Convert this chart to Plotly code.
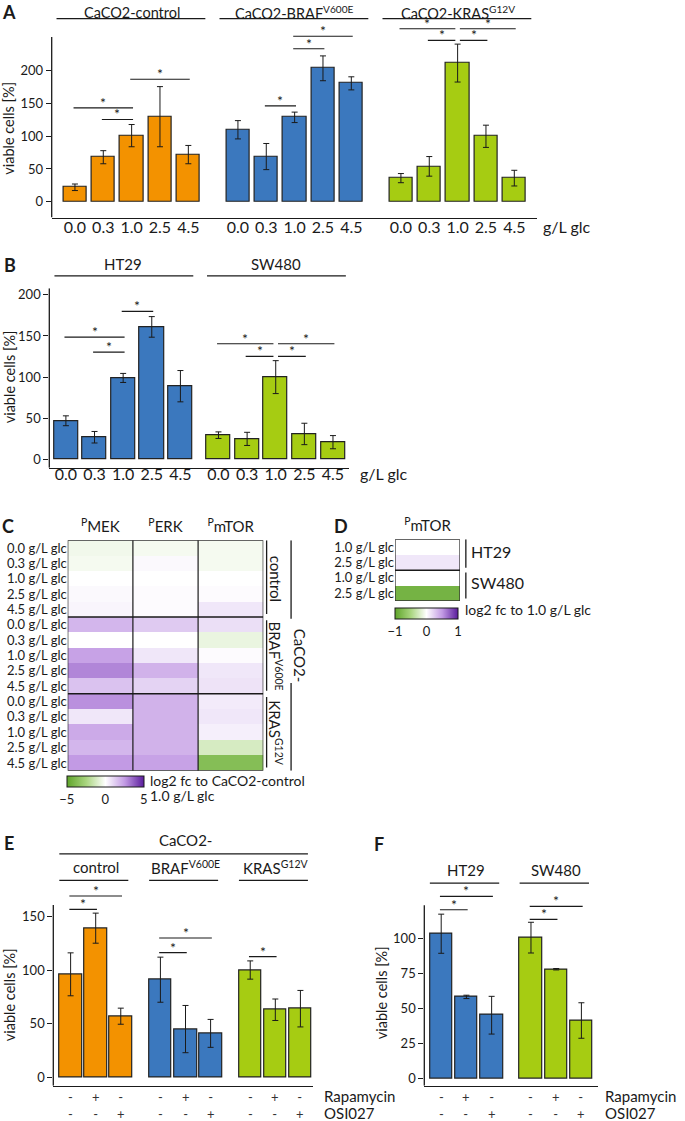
import plotly.graph_objects as go

W, H = 685, 1121
FONT = "Lato"
INK = "#1a1a1a"
ORANGE, BLUE, GREEN = "#f39200", "#3b78be", "#a6cc12"


def fx(p):
    return p / W


def fy(p):
    return 1 - p / H


# ---------------- data ----------------
glc_levels = ["0.0", "0.3", "1.0", "2.5", "4.5"]

# Panel A
a_titles = ["CaCO2-control", "CaCO2-BRAF<sup>V600E</sup>", "CaCO2-KRAS<sup>G12V</sup>"]
a_control = [22, 68, 101, 130, 72]
a_control_err = [5, 10, 17, 46, 14]
a_braf = [110, 69, 129, 204, 181]
a_braf_err = [14, 20, 8, 19, 10]
a_kras = [36, 54, 212, 100, 36]
a_kras_err = [7, 15, 29, 17, 12]
a_sig = [(0, 0, 2, 143.5), (0, 1, 2, 125.7), (0, 2, 4, 187.3),
         (1, 1, 2, 146.6), (1, 2, 3, 234), (1, 2, 4, 253),
         (2, 0, 2, 264.6), (2, 2, 4, 264.6), (2, 1, 2, 246.8), (2, 2, 3, 246.8)]

# Panel B
b_titles = ["HT29", "SW480"]
b_ht29 = [47, 27, 99, 161, 89]
b_ht29_err = [6, 7, 5.5, 12.5, 19]
b_sw480 = [29.5, 25, 100, 31, 21]
b_sw480_err = [4, 8, 20, 13, 8]
b_sig = [(0, 0, 2, 148.6), (0, 1, 2, 130.4), (0, 2, 3, 179.8),
         (1, 0, 2, 140.6), (1, 2, 4, 140.6), (1, 1, 2, 125.2), (1, 2, 3, 125.2)]

# Panel C (log2 fc to CaCO2-control 1.0 g/L glc)
c_rows = [f"{g} g/L glc" for g in glc_levels] * 3
c_cols = ["<sup>P</sup>MEK", "<sup>P</sup>ERK", "<sup>P</sup>mTOR"]
c_groups = ["control", "BRAF<sup>V600E</sup>", "KRAS<sup>G12V</sup>"]
c_mek = [-0.4, -0.3, 0.0, 0.15, 0.25, 1.8, 0.0, 2.3, 2.9, 1.5, 2.7, 0.6, 2.1, 1.8, 2.5]
c_erk = [-0.3, 0.15, 0.0, 0.1, 0.1, 1.3, 0.0, 0.6, 1.9, 1.1, 1.9, 1.9, 1.9, 1.9, 2.3]
c_mtor = [-0.3, -0.3, 0.0, 0.1, 0.6, 0.8, -0.6, 0.1, 0.6, 0.7, 0.5, 0.6, 0.4, -1.2, -3.7]

# Panel D (log2 fc to 1.0 g/L glc)
d_rows = ["1.0 g/L glc", "2.5 g/L glc", "1.0 g/L glc", "2.5 g/L glc"]
d_groups = ["HT29", "SW480"]
d_mtor = [0.0, 0.12, 0.0, -0.85]

# Panel E
e_titles = ["control", "BRAF<sup>V600E</sup>", "KRAS<sup>G12V</sup>"]
e_control = [96, 139, 57]
e_control_err = [20, 14, 7.5]
e_braf = [91, 45, 41]
e_braf_err = [21, 22, 13]
e_kras = [100, 63, 64]
e_kras_err = [8.5, 10, 17]
e_sig = [(0, 0, 1, 156.5), (0, 0, 2, 168.9), (1, 0, 1, 116.2), (1, 0, 2, 129.8), (2, 0, 1, 112.5)]

# Panel F
f_titles = ["HT29", "SW480"]
f_ht29 = [103.5, 58.3, 45.2]
f_ht29_err = [14, 1.2, 13.5]
f_sw480 = [100.7, 78.1, 41.4]
f_sw480_err = [11, 0.5, 12.7]
f_sig = [(0, 0, 1, 120.7), (0, 0, 2, 130.2), (1, 0, 1, 113.8), (1, 0, 2, 123.1)]

rapamycin = ["-", "+", "-"]
osi027 = ["-", "-", "+"]

CSCALE = [[0.0, "#5fa52a"], [0.25, "#a9d57f"], [0.5, "#ffffff"],
          [0.75, "#c29ae4"], [1.0, "#5a1c9c"]]

fig = go.Figure()
shapes = []
annotations = []
layout_axes = {}


def ann(text, x, y, xref="paper", yref="paper", size=14, xanchor="center",
        yanchor="middle", angle=0, color=INK, yshift=3, align="center"):
    annotations.append(dict(text=text, x=x, y=y, xref=xref, yref=yref,
                            showarrow=False, xanchor=xanchor, yanchor=yanchor,
                            textangle=angle, yshift=yshift, align=align,
                            font=dict(family=FONT, size=size, color=color)))


def hline(x0, x1, y, xref, yref, width=1.2):
    shapes.append(dict(type="line", x0=x0, x1=x1, y0=y, y1=y, xref=xref,
                       yref=yref, line=dict(color=INK, width=width)))


def vline(x, y0, y1, xref, yref, width=1.2):
    shapes.append(dict(type="line", x0=x, x1=x, y0=y0, y1=y1, xref=xref,
                       yref=yref, line=dict(color=INK, width=width)))


def bar_panel(n, offsets, vals, errs, colors, width, xrange, yrange, axis_top,
              xdom, ydom, ytickvals, sigs, titles, title_y, line_y,
              title_span, title_size, xticks=True, standoff=0, title_shift=3):
    xa = "x" if n == 1 else f"x{n}"
    ya = "y" if n == 1 else f"y{n}"
    all_pos = []
    all_txt = []
    group_pos = []
    for off, v, e, c in zip(offsets, vals, errs, colors):
        pos = [off + i for i in range(len(v))]
        group_pos.append(pos)
        all_pos += pos
        all_txt += glc_levels[:len(v)]
        fig.add_trace(go.Bar(
            x=pos, y=v, width=width, xaxis=xa, yaxis=ya,
            marker=dict(color=c, line=dict(color="#222222", width=1.2)),
            error_y=dict(type="data", array=e, color=INK, thickness=1, width=3),
            showlegend=False, hoverinfo="skip"))
    key = "" if n == 1 else str(n)
    layout_axes["xaxis" + key] = dict(
        domain=[fx(xdom[0]), fx(xdom[1])], range=xrange, anchor=ya,
        showline=True, linecolor=INK, linewidth=1.3, ticks="",
        showgrid=False, zeroline=False, showticklabels=xticks,
        tickvals=all_pos, ticktext=all_txt, ticklabelstandoff=standoff,
        tickfont=dict(family=FONT, size=16, color=INK))
    layout_axes["yaxis" + key] = dict(
        domain=[fy(ydom[1]), fy(ydom[0])], range=yrange, anchor=xa,
        showline=False, ticks="outside", ticklen=5, tickwidth=1,
        tickcolor=INK, tickvals=ytickvals, showgrid=False, zeroline=False,
        tickfont=dict(family=FONT, size=13, color=INK))
    vline(0, yrange[0], axis_top, xa + " domain", ya, width=1.3)
    for g, i, j, yv in sigs:
        p = group_pos[g]
        x0, x1 = p[i] - 0.05, p[j] + 0.05
        for g2, i2, j2, y2 in sigs:
            if g2 == g and abs(y2 - yv) < 1e-6:
                if j2 == i and (i2, j2) != (i, j):
                    x0 = p[i] + 0.08
                if i2 == j and (i2, j2) != (i, j):
                    x1 = p[j] - 0.08
        hline(x0, x1, yv, xa, ya, width=1.1)
        ann("*", (x0 + x1) / 2, yv, xref=xa, yref=ya, size=14,
            yanchor="bottom", yshift=-5)
    for t, p in zip(titles, group_pos):
        ann(t, (p[0] + p[-1]) / 2, fy(title_y), xref=xa, size=title_size,
            yshift=title_shift)
        hline(p[0] + title_span[0], p[-1] + title_span[1], fy(line_y), xa,
              "paper", width=1.2)
    return group_pos


def treatment_rows(xa, positions, name_x):
    for p in positions:
        for k, pv in enumerate(p):
            ann(f"{rapamycin[k]}<br>{osi027[k]}", pv, fy(1105), xref=xa,
                size=13, color="#333333", yshift=0)
    ann("Rapamycin", fx(name_x), fy(1096), xanchor="left", size=15, yshift=0)
    ann("OSI027", fx(name_x), fy(1113), xanchor="left", size=15, yshift=0)


# ---------------- Panel A ----------------
bar_panel(1, [0, 5.75, 11.5], [a_control, a_braf, a_kras],
          [a_control_err, a_braf_err, a_kras_err], [ORANGE, BLUE, GREEN],
          0.82, [-0.82, 16.29], [-24.4, 272], 252, (51.7, 536.7), (21.9, 216),
          [0, 50, 100, 150, 200], a_sig, a_titles, 10.5, 16.7, (-0.65, 0.6), 14.5,
          standoff=-5, title_shift=0)
ann("g/L glc", fx(541), fy(227.5), xanchor="left", size=16)
ann("viable cells [%]", fx(9), fy(127), angle=-90, size=14.5, yshift=0)
ann("<b>A</b>", fx(0), fy(10), xanchor="left", size=18, yshift=0)

# ---------------- Panel B ----------------
bar_panel(2, [0, 5.33], [b_ht29, b_sw480], [b_ht29_err, b_sw480_err],
          [BLUE, GREEN], 0.84, [-0.58, 9.9], [-10.2, 208], 208,
          (49.3, 349.3), (286.7, 466.7), [0, 50, 100, 150, 200], b_sig,
          b_titles, 265, 274.3, (-0.4, 0.45), 15, standoff=-8)
ann("g/L glc", fx(358), fy(475.5), xanchor="left", size=16)
ann("viable cells [%]", fx(9), fy(376), angle=-90, size=14.5, yshift=0)
ann("<b>B</b>", fx(2), fy(266), xanchor="left", size=18)

# ---------------- Panel C ----------------
c_z = [[m, e, t] for m, e, t in zip(c_mek, c_erk, c_mtor)]
fig.add_trace(go.Heatmap(
    z=c_z, x=[0, 1, 2], y=list(range(len(c_rows))), xaxis="x3", yaxis="y3",
    colorscale=CSCALE, zmin=-5, zmax=5, hoverinfo="skip",
    colorbar=dict(orientation="h", lenmode="pixels", len=77, thickness=11,
                  thicknessmode="pixels", x=fx(66.7 + 38.5), xanchor="center",
                  y=fy(775), yanchor="top", tickvals=[-5, 0, 5], ticks="",
                  outlinecolor=INK, outlinewidth=1, xpad=0, ypad=0,
                  tickfont=dict(family=FONT, size=13, color=INK))))
layout_axes["xaxis3"] = dict(
    domain=[fx(67.7), fx(263.3)], range=[-0.5, 2.5], anchor="y3", side="top",
    tickvals=[0, 1, 2], ticktext=c_cols, ticks="", showline=False,
    ticklabelstandoff=4,
    showgrid=False, zeroline=False, tickfont=dict(family=FONT, size=15, color=INK))
layout_axes["yaxis3"] = dict(
    domain=[fy(770), fy(539.3)], range=[14.5, -0.5], anchor="x3",
    tickvals=list(range(len(c_rows))), ticktext=c_rows, ticks="",
    showline=False, showgrid=False, zeroline=False,
    tickfont=dict(family=FONT, size=13, color=INK))
shapes.append(dict(type="rect", xref="x3", yref="y3", x0=-0.5, x1=2.5,
                   y0=-0.5, y1=14.5, line=dict(color="#333333", width=1.3)))
for xv in (0.5, 1.5):
    vline(xv, -0.5, 14.5, "x3", "y3", width=1.2)
for yv in (4.5, 9.5):
    hline(-0.5, 2.5, yv, "x3", "y3", width=1.5)
for gi, gname in enumerate(c_groups):
    y0 = gi * 5 - 0.5 + (0.0 if gi == 0 else 0.2)
    y1 = gi * 5 + 4.5 - 0.2
    vline(1.017, y0, y1, "x3 domain", "y3", width=1.3)
    ann(gname, fx(276), fy(539.3 + (gi * 5 + 2.5) * 15.38), angle=90, size=15,
        yshift=0)
vline(1.142, -0.5, 4.6, "x3 domain", "y3", width=1.3)
vline(1.142, 8.8, 14.5, "x3 domain", "y3", width=1.3)
ann("CaCO2-", fx(300), fy(654), angle=90, size=15, yshift=0)
ann("log2 fc to CaCO2-control", fx(148), fy(783), xanchor="left", size=14)
ann("1.0 g/L glc", fx(148), fy(798), xanchor="left", size=14)
ann("<b>C</b>", fx(0), fy(528), xanchor="left", size=18)

# ---------------- Panel D ----------------
fig.add_trace(go.Heatmap(
    z=[[v] for v in d_mtor], x=[0], y=list(range(len(d_rows))), xaxis="x4",
    yaxis="y4", colorscale=CSCALE, zmin=-1, zmax=1, hoverinfo="skip",
    colorbar=dict(orientation="h", lenmode="pixels", len=63, thickness=11,
                  thicknessmode="pixels", x=fx(426.5), xanchor="center",
                  y=fy(606.7), yanchor="top", tickvals=[-1, 0, 1], ticks="",
                  outlinecolor=INK, outlinewidth=1, xpad=0, ypad=0,
                  tickfont=dict(family=FONT, size=13, color=INK))))
layout_axes["xaxis4"] = dict(
    domain=[fx(395), fx(460)], range=[-0.5, 0.5], anchor="y4", side="top",
    tickvals=[0], ticktext=["<sup>P</sup>mTOR"], ticks="", showline=False,
    ticklabelstandoff=4,
    showgrid=False, zeroline=False, tickfont=dict(family=FONT, size=15, color=INK))
layout_axes["yaxis4"] = dict(
    domain=[fy(600), fy(538.3)], range=[3.5, -0.5], anchor="x4",
    tickvals=list(range(len(d_rows))), ticktext=d_rows, ticks="",
    showline=False, showgrid=False, zeroline=False,
    tickfont=dict(family=FONT, size=13, color=INK))
shapes.append(dict(type="rect", xref="x4", yref="y4", x0=-0.5, x1=0.5,
                   y0=-0.5, y1=3.5, line=dict(color="#333333", width=1.3)))
hline(-0.5, 0.5, 1.5, "x4", "y4", width=1.5)
for gi, gname in enumerate(d_groups):
    vline(1.09, gi * 2 - 0.5 + (0 if gi == 0 else 0.15), gi * 2 + 1.5 - 0.15,
          "x4 domain", "y4", width=1.3)
    ann(gname, fx(469), fy(538.3 + (gi * 2 + 1) * 15.4), xanchor="left", size=16)
ann("log2 fc to 1.0 g/L glc", fx(463), fy(612), xanchor="left", size=14)
ann("<b>D</b>", fx(332), fy(528), xanchor="left", size=18)

# ---------------- Panel E ----------------
e_pos = bar_panel(5, [0, 3.58, 7.16], [e_control, e_braf, e_kras],
                  [e_control_err, e_braf_err, e_kras_err], [ORANGE, BLUE, GREEN],
                  0.9, [-0.69, 9.65], [-7.8, 175], 160.5, (53.3, 312.7),
                  (889.1, 1085.7), [0, 50, 100, 150], e_sig, e_titles, 870, 880,
                  (-0.45, 0.3), 15, xticks=False)
ann("CaCO2-", 4.58, fy(843), xref="x5", size=15)
hline(e_pos[0][0] - 0.45, e_pos[-1][-1] + 0.3, fy(853.3), "x5", "paper", width=1.2)
treatment_rows("x5", e_pos, 321.7)
ann("viable cells [%]", fx(9), fy(995), angle=-90, size=14.5, yshift=0)
ann("<b>E</b>", fx(2), fy(846), xanchor="left", size=18)

# ---------------- Panel F ----------------
f_pos = bar_panel(6, [0, 3.56], [f_ht29, f_sw480], [f_ht29_err, f_sw480_err],
                  [BLUE, GREEN], 0.89, [-0.67, 6.23], [-5.3, 135], 123.8,
                  (424.3, 598.3), (889.3, 1085.7), [0, 25, 50, 75, 100], f_sig,
                  f_titles, 873, 882.7, (-0.45, 0.3), 15, xticks=False)
treatment_rows("x6", f_pos, 603)
ann("viable cells [%]", fx(381), fy(993), angle=-90, size=14.5, yshift=0)
ann("<b>F</b>", fx(372), fy(847), xanchor="left", size=18)

fig.update_layout(
    width=W, height=H, margin=dict(l=0, r=0, t=0, b=0),
    paper_bgcolor="white", plot_bgcolor="white", showlegend=False,
    bargap=0, font=dict(family=FONT, color=INK),
    shapes=shapes, annotations=annotations, **layout_axes)

fig.write_html(
    "out.html",
    config={"displayModeBar": False},
    post_script="document.body.style.margin='0px';"
                "document.body.style.padding='0px';"
                "document.body.style.overflow='hidden';")
